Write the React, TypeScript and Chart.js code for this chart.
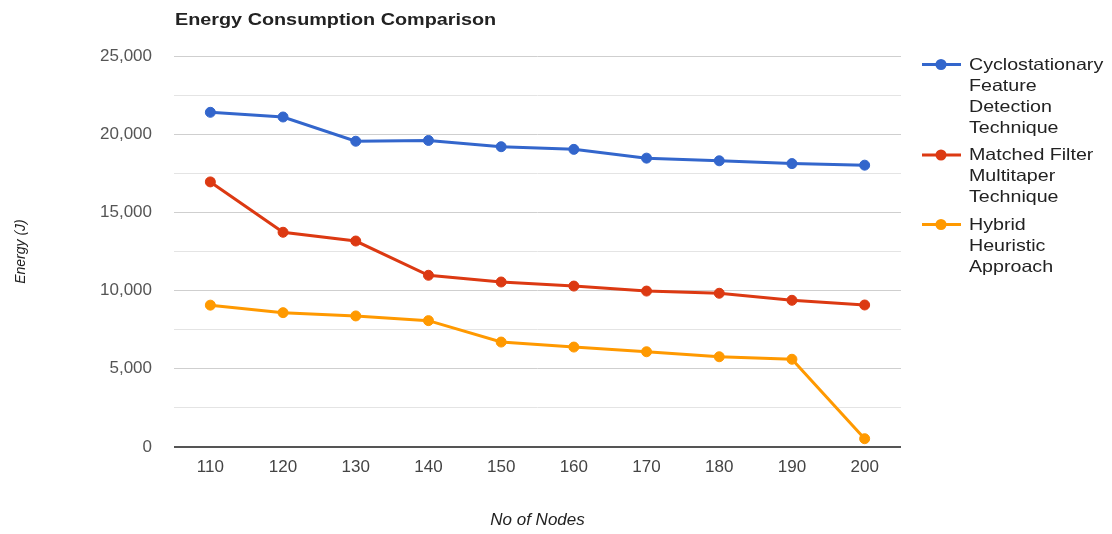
import React, { useEffect, useRef } from 'react';
import { Chart, registerables } from 'chart.js';

Chart.register(...registerables);

const chartTitle = 'Energy Consumption Comparison';
const xAxisTitle = 'No of Nodes';
const yAxisTitle = 'Energy (J)';

const nodeLabels = ['110', '120', '130', '140', '150', '160', '170', '180', '190', '200'];

const seriesNames = [
  'Cyclostationary Feature Detection Technique',
  'Matched Filter Multitaper Technique',
  'Hybrid Heuristic Approach',
];
const seriesColors = ['#3366cc', '#dc3912', '#ff9900'];

const cyclostationary = [21400, 21100, 19550, 19600, 19200, 19030, 18470, 18300, 18120, 18020];
const matchedFilter = [16950, 13730, 13170, 10980, 10550, 10290, 9970, 9830, 9380, 9080];
const hybridHeuristic = [9070, 8590, 8380, 8080, 6710, 6390, 6090, 5770, 5610, 530];

const yMin = 0;
const yMax = 25000;
const yStep = 2500;
const yLabelStep = 5000;

const FONT = '"Liberation Sans", Arial, sans-serif';

const overlayPlugin = {
  id: 'overlayText',
  afterDraw(chart: any) {
    const ctx = chart.ctx as CanvasRenderingContext2D;
    const area = chart.chartArea;
    ctx.save();
    // Title
    ctx.font = `bold 16.5px ${FONT}`;
    ctx.fillStyle = '#222222';
    ctx.textBaseline = 'alphabetic';
    ctx.textAlign = 'left';
    ctx.save();
    ctx.translate(area.left + 1, 25);
    ctx.scale(1.2, 1);
    ctx.fillText(chartTitle, 0, 0);
    ctx.restore();

    // Legend
    const sx = 1.19;
    const maxW = 137;
    const lineH = 21;
    ctx.font = `16.5px ${FONT}`;
    let baseline = 69.5;
    chart.data.datasets.forEach((ds: any) => {
      const words = String(ds.label).split(' ');
      const lines: string[] = [];
      let cur = '';
      for (const w of words) {
        const t = cur ? cur + ' ' + w : w;
        if (cur && ctx.measureText(t).width * sx > maxW) {
          lines.push(cur);
          cur = w;
        } else {
          cur = t;
        }
      }
      if (cur) lines.push(cur);
      const my = baseline - 5;
      ctx.strokeStyle = ds.borderColor;
      ctx.lineWidth = 3;
      ctx.beginPath();
      ctx.moveTo(922, my);
      ctx.lineTo(961, my);
      ctx.stroke();
      ctx.fillStyle = ds.borderColor;
      ctx.beginPath();
      ctx.arc(941, my, 5.5, 0, Math.PI * 2);
      ctx.fill();
      ctx.fillStyle = '#222222';
      lines.forEach((ln, j) => {
        ctx.save();
        ctx.translate(969, baseline + j * lineH);
        ctx.scale(sx, 1);
        ctx.fillText(ln, 0, 0);
        ctx.restore();
      });
      baseline += lines.length * lineH + 6.5;
    });
    ctx.restore();
  },
};

export default function App() {
  const canvasRef = useRef<HTMLCanvasElement | null>(null);

  useEffect(() => {
    if (!canvasRef.current) return;
    const seriesData = [cyclostationary, matchedFilter, hybridHeuristic];
    const chart = new Chart(canvasRef.current, {
      type: 'line',
      data: {
        labels: nodeLabels,
        datasets: seriesData.map((d, i) => ({
          label: seriesNames[i],
          data: d,
          borderColor: seriesColors[i],
          backgroundColor: seriesColors[i],
          borderWidth: 3,
          pointRadius: 5,
          pointBorderWidth: 1,
          pointBackgroundColor: seriesColors[i],
          pointBorderColor: seriesColors[i],
          tension: 0,
          fill: false,
        })),
      },
      options: {
        responsive: false,
        animation: false,
        layout: { padding: { top: 56, right: 211, left: 0, bottom: 0 } },
        plugins: {
          legend: { display: false },
          title: { display: false },
          tooltip: { enabled: false },
        },
        scales: {
          x: {
            type: 'category',
            offset: true,
            grid: { display: false, drawTicks: false },
            border: { display: false },
            ticks: {
              font: { family: FONT, size: 17 },
              color: '#444444',
              padding: 10,
              maxRotation: 0,
              autoSkip: false,
            },
            title: {
              display: true,
              text: xAxisTitle,
              font: { family: FONT, size: 17, style: 'italic' },
              color: '#222222',
              padding: { top: 0, bottom: 4 },
            },
            afterFit: (s: any) => {
              s.height = 87;
            },
          },
          y: {
            min: yMin,
            max: yMax,
            border: { display: false },
            grid: {
              drawTicks: false,
              color: (c: any) =>
                c.tick && c.tick.value === 0
                  ? '#555555'
                  : c.tick && c.tick.value % yLabelStep === 0
                  ? '#cfcfcf'
                  : '#e4e4e4',
              lineWidth: (c: any) => (c.tick && c.tick.value === 0 ? 2 : 1),
            },
            ticks: {
              stepSize: yStep,
              autoSkip: false,
              font: { family: FONT, size: 17 },
              color: '#555555',
              padding: 22,
              callback: (v: any) =>
                Number(v) % yLabelStep === 0 ? Number(v).toLocaleString('en-US') : '',
            },
            title: {
              display: true,
              text: yAxisTitle,
              font: { family: FONT, size: 14, style: 'italic' },
              color: '#222222',
              padding: { top: 13, bottom: 0 },
            },
            afterFit: (s: any) => {
              s.width = 174;
            },
          },
        },
      },
      plugins: [overlayPlugin],
    });
    return () => chart.destroy();
  }, []);

  return (
    <div style={{ position: 'fixed', left: 0, top: 0, width: 1112, height: 534, background: '#ffffff' }}>
      <canvas ref={canvasRef} width={1112} height={534} style={{ display: 'block' }} />
    </div>
  );
}
